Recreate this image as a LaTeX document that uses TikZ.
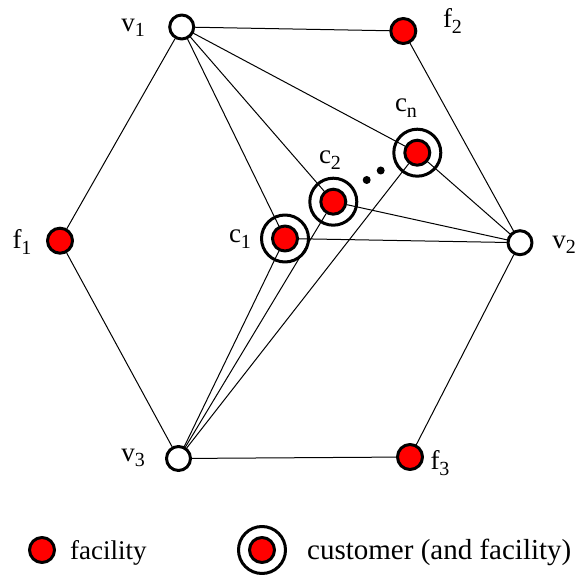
\documentclass[tikz,border=0pt]{standalone}
\usepackage{fontspec}
\setmainfont{Liberation Serif}
\newcommand{\lbl}[2]{#1\raisebox{-0.45ex}{\fontsize{20}{20}\selectfont #2}}
\tikzset{
  facility/.style={circle,draw=black,fill=red,line width=3pt,minimum size=25pt,inner sep=0pt},
  vertex/.style={circle,draw=black,fill=white,line width=3pt,minimum size=24pt,inner sep=0pt},
  ring/.style={draw=black,line width=3pt},
  edge/.style={line width=1pt},
  tag/.style={font=\fontsize{27}{27}\selectfont,inner sep=0pt}
}
\begin{document}
\begin{tikzpicture}[x=1pt,y=-1pt,line cap=round,line join=round]
  \useasboundingbox (0,0) rectangle (579,575);
  % vertices and facilities
  \node[vertex] (v1) at (181.7,27) {};
  \node[vertex] (v2) at (520,242.7) {};
  \node[vertex] (v3) at (178.5,458.5) {};
  \node[facility] (f1) at (60,240.7) {};
  \node[facility] (f2) at (403.3,31) {};
  \node[facility] (f3) at (410,457) {};
  \node[facility] (c1) at (285,238.5) {};
  \node[facility] (c2) at (333.3,201.7) {};
  \node[facility] (cn) at (417.3,152.7) {};
  \foreach \c in {c1,c2,cn}
    \draw[ring] (\c) circle (23.5);
  % hexagon
  \draw[edge] (v1) -- (f2) -- (v2) -- (f3) -- (v3) -- (f1) -- (v1);
  % spokes to customers
  \foreach \v in {v1,v2,v3}
    \foreach \c in {c1,c2,cn}
      \draw[edge] (\v) -- (\c);
  \fill (366.7,180) circle (4);
  \fill (380.7,170.5) circle (4);
  % labels
  \node[tag] (lv1) at (133,28) {\lbl{v}{1}};
  \node[tag] (lv2) at (564,245) {\lbl{v}{2}};
  \node[tag] (lv3) at (133,458) {\lbl{v}{3}};
  \node[tag] (lf1) at (22,242) {\lbl{f}{1}};
  \node[tag] (lf2) at (452.5,21) {\lbl{f}{2}};
  \node[tag] (lf3) at (440,463) {\lbl{f}{3}};
  \node[tag] (lc1) at (240,239) {\lbl{c}{1}};
  \node[tag] (lc2) at (330,160) {\lbl{c}{2}};
  \node[tag] (lcn) at (406,108) {\lbl{c}{n}};
  % legend
  \node[facility] (kf) at (42,550) {};
  \node[tag,anchor=base west] (kft) at (70,559) {facility};
  \node[facility] (kc) at (262,550) {};
  \draw[ring] (kc) circle (23.5);
  \node[tag,anchor=base west,font=\fontsize{29}{29}\selectfont] (kct) at (307,559) {customer (and facility)};
\end{tikzpicture}
\end{document}
